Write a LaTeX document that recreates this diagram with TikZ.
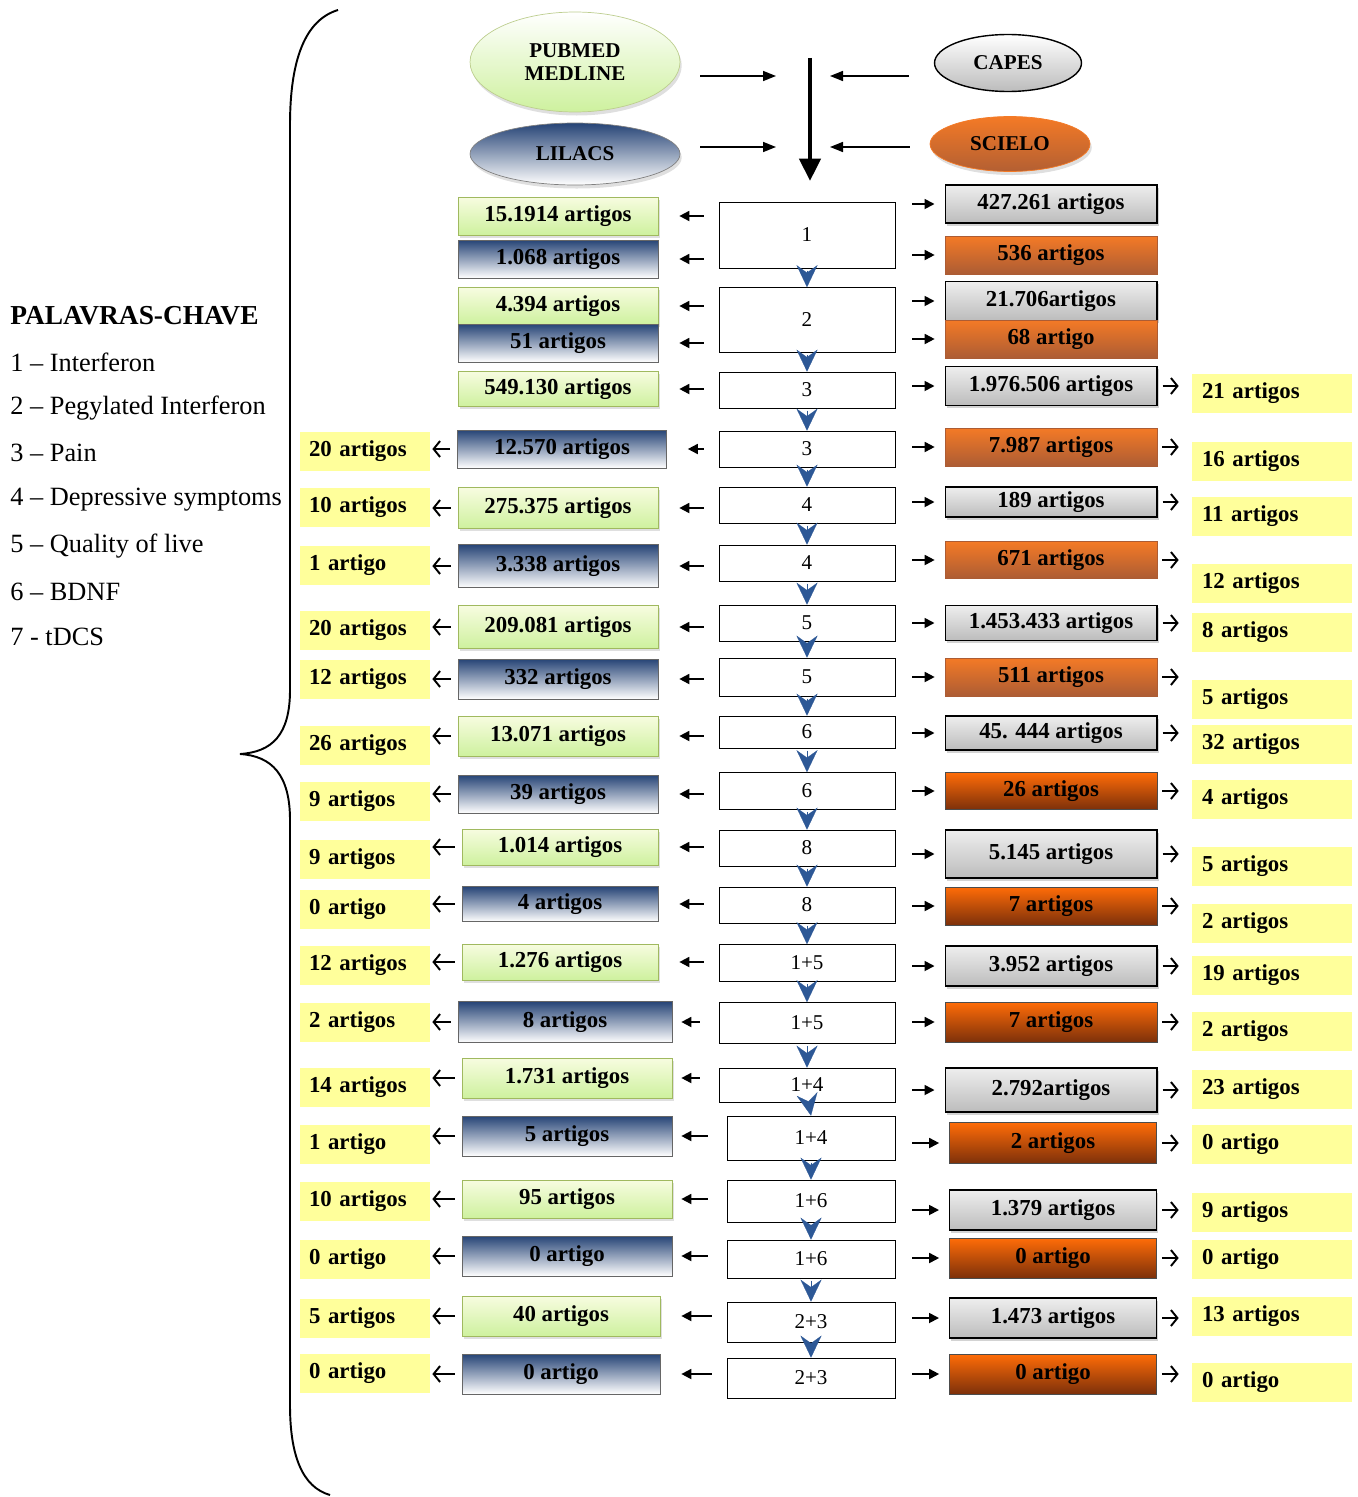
\documentclass[tikz,border=0pt]{standalone}
\usepackage{fontspec}
\setmainfont{Liberation Serif}
\usepackage{tikz}
\usetikzlibrary{arrows.meta, shapes.geometric, shadows, calc}
\definecolor{grnA}{RGB}{247,252,224}
\definecolor{grnB}{RGB}{206,241,158}
\definecolor{grnline}{RGB}{160,185,95}
\definecolor{bluA}{RGB}{38,68,118}
\definecolor{gryA}{RGB}{238,238,238}
\definecolor{gryB}{RGB}{188,188,188}
\definecolor{orgA}{RGB}{244,122,38}
\definecolor{orgB}{RGB}{172,92,52}
\definecolor{orgC}{RGB}{255,108,8}
\definecolor{orgD}{RGB}{125,48,10}
\definecolor{ylw}{RGB}{255,255,155}
\definecolor{chevblue}{RGB}{45,88,150}

\newcommand{\boxfont}{\bfseries\fontsize{13}{15}\selectfont}
\newcommand{\numfont}{\fontsize{12}{14}\selectfont}
\newcommand{\keyfont}{\fontsize{15}{18}\selectfont}

\tikzset{
  artbox/.style={draw, minimum height=0.78cm, inner sep=1pt, font=\boxfont},
  grnbox/.style={artbox, draw=grnline, top color=grnA, bottom color=grnB, minimum width=4cm,
                 drop shadow={shadow xshift=1pt, shadow yshift=-1.5pt, opacity=0.25}},
  blubox/.style={artbox, draw=black!60, top color=bluA, bottom color=white, minimum width=4cm},
  grybox/.style={artbox, draw=black, semithick, top color=gryA, bottom color=gryB, minimum width=4.24cm,
                 drop shadow={shadow xshift=1pt, shadow yshift=-1.5pt, opacity=0.35}},
  orgbox/.style={artbox, draw=orgB, top color=orgA, bottom color=orgB, minimum width=4.24cm},
  orgdbox/.style={artbox, draw=black!70, top color=orgC, bottom color=orgD, minimum width=4.24cm},
  ylwl/.style={fill=ylw, minimum height=0.78cm, inner xsep=0.18cm, text width=2.24cm, align=left, font=\boxfont},
  ylwr/.style={fill=ylw, minimum height=0.78cm, inner xsep=0.2cm, text width=2.8cm, align=left, font=\boxfont},
  keybox/.style={draw, fill=white, minimum width=3.52cm, minimum height=0.72cm, inner sep=1pt, font=\numfont},
  dbase/.style={ellipse, inner sep=0pt, font=\bfseries\fontsize{12}{13}\selectfont, align=center},
  legend/.style={anchor=west, inner sep=0pt, font=\keyfont},
  toleft/.style={-{Triangle[length=0.2cm,width=0.2cm]}, line width=1pt, shorten <=0.3cm, shorten >=0.42cm},
  toleftb/.style={toleft, shorten <=0.38cm, shorten >=0.18cm},
  toright/.style={-{Triangle[length=0.2cm,width=0.2cm]}, line width=1pt, shorten <=0.34cm, shorten >=0.2cm},
  farleft/.style={-{Straight Barb[length=0.13cm,width=0.32cm]}, line width=1.1pt, shorten <=0.14cm, shorten >=0.04cm},
  farright/.style={-{Straight Barb[length=0.13cm,width=0.32cm]}, line width=1.1pt, shorten <=0.1cm, shorten >=0.26cm},
  inarr/.style={-{Triangle[length=0.26cm,width=0.2cm]}, line width=0.9pt},
  bigarr/.style={-{Triangle[length=0.45cm,width=0.42cm]}, line width=2.6pt},
  chev/.style={-{Stealth[length=0.44cm,width=0.42cm,inset=0.15cm]}, chevblue, line width=0.1pt}
}

\begin{document}
\begin{tikzpicture}[x=0.02cm, y=-0.02cm]
\useasboundingbox (0,0) rectangle (1358,1497);

% --- legenda ---
\node[legend] (kw0) at (10,316) {\fontsize{15.6}{18}\selectfont\textbf{PALAVRAS-CHAVE}};
\node[legend] (kw1) at (10,362) {1 – Interferon};
\node[legend] (kw2) at (10,408) {2 – Pegylated Interferon};
\node[legend] (kw3) at (10,453) {3 – Pain};
\node[legend] (kw4) at (10,500) {4 – Depressive symptoms};
\node[legend] (kw5) at (10,546) {5 – Quality of live};
\node[legend] (kw6) at (10,592) {6 – BDNF};
\node[legend] (kw7) at (10,637) {7 - tDCS};

% chave
\draw[line width=1.1pt] (338,10) .. controls (305,20) and (290,60) .. (290,125) -- (290,690)
  .. controls (290,735) and (272,752) .. (240,754) .. controls (272,756) and (290,775) .. (290,820)
  -- (290,1405) .. controls (290,1455) and (302,1487) .. (330,1495);

% --- bases de dados ---
\node[dbase, minimum width=4.2cm, minimum height=2cm, top color=white, bottom color=grnB, draw=grnline!70,
      drop shadow={shadow xshift=1pt, shadow yshift=-2pt, opacity=0.25}] (pub) at (575,62) {PUBMED\\MEDLINE};
\node[dbase, minimum width=4.2cm, minimum height=1.24cm, top color=bluA, bottom color=white, draw=black!50,
      drop shadow={shadow xshift=1pt, shadow yshift=-2pt, opacity=0.25}] (lil) at (575,154) {LILACS};
\node[dbase, minimum width=2.94cm, minimum height=1.14cm, top color=white, bottom color=gryB, draw=black, thick] (cap) at (1008,63) {CAPES};
\node[dbase, minimum width=3.2cm, minimum height=1.1cm, top color=orgA, bottom color=orgB!90!orgA, draw=orgA,
      drop shadow={shadow xshift=1pt, shadow yshift=-2pt, opacity=0.25}] (sci) at (1010,144) {SCIELO};

\coordinate (fTop) at (810,58);
\coordinate (fBot) at (810,181);
\coordinate (pubin) at (776,76);
\coordinate (lilin) at (776,147);
\coordinate (capin) at (830,76);
\coordinate (sciin) at (830,147);
\draw[bigarr] (fTop) -- (fBot);
\draw[inarr] ($(pub.east)+(20,14)$) -- (pubin);
\draw[inarr] ($(lil.east)+(20,-7)$) -- (lilin);
\draw[inarr] ($(cap.west)+(-25,13)$) -- (capin);
\draw[inarr] ($(sci.west)+(-20,3)$) -- (sciin);

% --- palavras-chave (coluna central) ---
\node[keybox, minimum height=1.32cm] (c1) at (807,235) {1};
\node[keybox, minimum height=1.3cm] (c2) at (807,320) {2};
\node[keybox] (c3) at (807,390) {3};
\node[keybox] (c4) at (807,449) {3};
\node[keybox] (c5) at (807,505) {4};
\node[keybox] (c6) at (807,563) {4};
\node[keybox] (c7) at (807,623) {5};
\node[keybox, minimum height=0.76cm] (c8) at (807,677) {5};
\node[keybox, minimum height=0.64cm] (c9) at (807,732) {6};
\node[keybox, minimum height=0.74cm] (c10) at (807,791) {6};
\node[keybox] (c11) at (807,848) {8};
\node[keybox] (c12) at (807,905) {8};
\node[keybox, minimum height=0.74cm] (c13) at (807,963) {1+5};
\node[keybox, minimum height=0.82cm] (c14) at (807,1023) {1+5};
\node[keybox, minimum height=0.68cm] (c15) at (807,1085) {1+4};
\node[keybox, minimum width=3.36cm, minimum height=0.88cm] (c16) at (811,1138) {1+4};
\node[keybox, minimum width=3.36cm, minimum height=0.84cm] (c17) at (811,1201) {1+6};
\node[keybox, minimum width=3.36cm, minimum height=0.76cm] (c18) at (811,1259) {1+6};
\node[keybox, minimum width=3.36cm, minimum height=0.8cm] (c19) at (811,1322) {2+3};
\node[keybox, minimum width=3.36cm, minimum height=0.8cm] (c20) at (811,1378) {2+3};

\foreach \i/\j in {1/2,2/3,3/4,4/5,5/6,6/7,7/8,8/9,9/10,10/11,11/12,12/13,13/14,14/15,15/16,16/17,17/18,18/19,19/20}
  \draw[chev, shorten <=0.22cm] ([yshift=5pt]c\i.south) -- (c\j.north);

% --- PUBMED / LILACS (esquerda) ---
\node[grnbox, minimum height=0.76cm] (la1) at (558,216) {15.1914 artigos};
\node[blubox, minimum height=0.76cm] (lb1) at (558,259) {1.068 artigos};
\node[grnbox, minimum height=0.74cm] (la2) at (558,306) {4.394 artigos};
\node[blubox, minimum height=0.76cm] (lb2) at (558,343) {51 artigos};
\node[grnbox, minimum height=0.7cm] (l3) at (558,389) {549.130 artigos};
\node[blubox, minimum width=4.18cm, minimum height=0.76cm] (l4) at (562,449) {12.570 artigos};
\node[grnbox, minimum height=0.82cm] (l5) at (558,508) {275.375 artigos};
\node[blubox, minimum height=0.86cm] (l6) at (558,566) {3.338 artigos};
\node[grnbox, minimum height=0.86cm] (l7) at (558,627) {209.081 artigos};
\node[blubox, minimum height=0.8cm] (l8) at (558,679) {332 artigos};
\node[grnbox, minimum height=0.8cm] (l9) at (558,736) {13.071 artigos};
\node[blubox, minimum height=0.76cm] (l10) at (558,794) {39 artigos};
\node[grnbox, minimum width=3.92cm, minimum height=0.72cm] (l11) at (560,847) {1.014 artigos};
\node[blubox, minimum width=3.92cm, minimum height=0.7cm] (l12) at (560,904) {4 artigos};
\node[grnbox, minimum width=3.92cm, minimum height=0.72cm] (l13) at (560,962) {1.276 artigos};
\node[blubox, minimum width=4.28cm, minimum height=0.82cm] (l14) at (565,1022) {8 artigos};
\node[grnbox, minimum width=4.2cm, minimum height=0.8cm] (l15) at (567,1078) {1.731 artigos};
\node[blubox, minimum width=4.2cm, minimum height=0.8cm] (l16) at (567,1136) {5 artigos};
\node[grnbox, minimum width=4.2cm, minimum height=0.76cm] (l17) at (567,1199) {95 artigos};
\node[blubox, minimum width=4.2cm, minimum height=0.8cm] (l18) at (567,1256) {0 artigo};
\node[grnbox, minimum width=3.96cm, minimum height=0.8cm] (l19) at (561,1316) {40 artigos};
\node[blubox, minimum width=3.96cm, minimum height=0.8cm] (l20) at (561,1374) {0 artigo};

% --- CAPES / SCIELO (direita) ---
\node[grybox, minimum height=0.76cm] (ra1) at (1051,204) {427.261 artigos};
\node[orgbox, minimum height=0.76cm] (rb1) at (1051,255) {536 artigos};
\node[grybox, minimum height=0.78cm] (ra2) at (1051,301) {21.706artigos};
\node[orgbox, minimum height=0.76cm] (rb2) at (1051,339) {68 artigo};
\node[grybox] (r3) at (1051,386) {1.976.506 artigos};
\node[orgbox, minimum height=0.76cm] (r4) at (1051,447) {7.987 artigos};
\node[grybox, minimum height=0.6cm] (r5) at (1051,502) {189 artigos};
\node[orgbox, minimum height=0.74cm] (r6) at (1051,560) {671 artigos};
\node[grybox, minimum height=0.7cm] (r7) at (1051,623) {1.453.433 artigos};
\node[orgbox, minimum height=0.76cm] (r8) at (1051,677) {511 artigos};
\node[grybox, minimum height=0.68cm] (r9) at (1051,733) {45. 444 artigos};
\node[orgdbox, minimum height=0.74cm] (r10) at (1051,791) {26 artigos};
\node[grybox, minimum height=0.96cm] (r11) at (1051,854) {5.145 artigos};
\node[orgdbox, minimum height=0.76cm] (r12) at (1051,906) {7 artigos};
\node[grybox, minimum height=0.8cm] (r13) at (1051,966) {3.952 artigos};
\node[orgdbox, minimum height=0.8cm] (r14) at (1051,1022) {7 artigos};
\node[grybox, minimum height=0.88cm] (r15) at (1051,1090) {2.792artigos};
\node[orgdbox, minimum width=4.14cm, minimum height=0.82cm] (r16) at (1053,1143) {2 artigos};
\node[grybox, minimum width=4.14cm, minimum height=0.8cm] (r17) at (1053,1210) {1.379 artigos};
\node[orgdbox, minimum width=4.14cm, minimum height=0.8cm] (r18) at (1053,1258) {0 artigo};
\node[grybox, minimum width=4.14cm, minimum height=0.8cm] (r19) at (1053,1318) {1.473 artigos};
\node[orgdbox, minimum width=4.14cm, minimum height=0.8cm] (r20) at (1053,1374) {0 artigo};

% --- resultados finais (amarelo) ---
\node[ylwl] (fl4) at (365,451) {20 artigos};
\node[ylwl] (fl5) at (365,507) {10 artigos};
\node[ylwl] (fl6) at (365,565) {1 artigo};
\node[ylwl] (fl7) at (365,630) {20 artigos};
\node[ylwl] (fl8) at (365,679) {12 artigos};
\node[ylwl] (fl9) at (365,745) {26 artigos};
\node[ylwl] (fl10) at (365,801) {9 artigos};
\node[ylwl] (fl11) at (365,859) {9 artigos};
\node[ylwl] (fl12) at (365,909) {0 artigo};
\node[ylwl] (fl13) at (365,965) {12 artigos};
\node[ylwl] (fl14) at (365,1022) {2 artigos};
\node[ylwl] (fl15) at (365,1087) {14 artigos};
\node[ylwl] (fl16) at (365,1144) {1 artigo};
\node[ylwl] (fl17) at (365,1201) {10 artigos};
\node[ylwl] (fl18) at (365,1259) {0 artigo};
\node[ylwl] (fl19) at (365,1318) {5 artigos};
\node[ylwl] (fl20) at (365,1373) {0 artigo};

\node[ylwr] (fr3) at (1272,393) {21 artigos};
\node[ylwr] (fr4) at (1272,461) {16 artigos};
\node[ylwr] (fr5) at (1272,516) {11 artigos};
\node[ylwr] (fr6) at (1272,583) {12 artigos};
\node[ylwr] (fr7) at (1272,632) {8 artigos};
\node[ylwr] (fr8) at (1272,699) {5 artigos};
\node[ylwr] (fr9) at (1272,744) {32 artigos};
\node[ylwr] (fr10) at (1272,799) {4 artigos};
\node[ylwr] (fr11) at (1272,866) {5 artigos};
\node[ylwr] (fr12) at (1272,923) {2 artigos};
\node[ylwr] (fr13) at (1272,975) {19 artigos};
\node[ylwr] (fr14) at (1272,1031) {2 artigos};
\node[ylwr] (fr15) at (1272,1089) {23 artigos};
\node[ylwr] (fr16) at (1272,1144) {0 artigo};
\node[ylwr] (fr17) at (1272,1212) {9 artigos};
\node[ylwr] (fr18) at (1272,1259) {0 artigo};
\node[ylwr] (fr19) at (1272,1316) {13 artigos};
\node[ylwr] (fr20) at (1272,1382) {0 artigo};

% --- setas ---
\draw[toleft] (c1.west |- la1.east) -- (la1.east);
\draw[toleft] (c1.west |- lb1.east) -- (lb1.east);
\draw[toleft] (c2.west |- la2.east) -- (la2.east);
\draw[toleft] (c2.west |- lb2.east) -- (lb2.east);
\draw[toright] (c1.east |- ra1.west) -- (ra1.west);
\draw[toright] (c1.east |- rb1.west) -- (rb1.west);
\draw[toright] (c2.east |- ra2.west) -- (ra2.west);
\draw[toright] (c2.east |- rb2.west) -- (rb2.west);
\foreach \i in {3,...,13,19,20}
  \draw[toleft] (c\i.west |- l\i.east) -- (l\i.east);
\foreach \i in {14,...,18}
  \draw[toleftb] (c\i.west |- l\i.east) -- (l\i.east);
\foreach \i in {3,...,20} {
  \draw[toright] (c\i.east |- r\i.west) -- (r\i.west);
  \draw[farright] (r\i.east) -- (r\i.east -| fr\i.west);
}
\foreach \i in {4,...,20}
  \draw[farleft] (l\i.west) -- (l\i.west -| fl\i.east);
\end{tikzpicture}
\end{document}
